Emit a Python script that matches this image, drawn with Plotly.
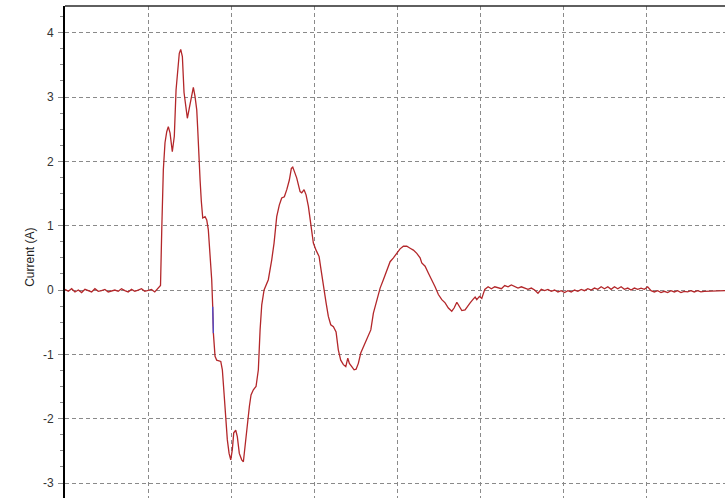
import plotly.graph_objects as go

# Sampled current waveform: time (grid divisions) and current (A)
t_pre = [0.00, 0.04, 0.08, 0.12, 0.16, 0.20, 0.24, 0.28, 0.32, 0.36,
         0.40, 0.44, 0.48, 0.52, 0.56, 0.60, 0.64, 0.68, 0.72, 0.76,
         0.80, 0.84, 0.88, 0.92, 0.96, 1.00, 1.04, 1.08, 1.12]
i_pre = [0.01, -0.02, 0.02, -0.03, 0.00, -0.04, 0.01, -0.01, -0.03, 0.02,
         -0.02, -0.01, 0.01, -0.03, -0.01, 0.00, -0.02, 0.02, -0.01, -0.03,
         0.01, -0.02, 0.00, 0.02, -0.02, -0.01, 0.01, -0.03, 0.02]

t_pulse = [1.149, 1.164, 1.183, 1.203, 1.224, 1.243, 1.264, 1.291, 1.315, 1.336,
           1.356, 1.375, 1.392, 1.412, 1.432, 1.452, 1.472, 1.496, 1.525, 1.544,
           1.564, 1.585, 1.597, 1.609, 1.625, 1.640, 1.657, 1.685, 1.705, 1.724,
           1.745, 1.765, 1.777, 1.785, 1.805, 1.825, 1.874, 1.893, 1.913, 1.937,
           1.953, 1.974, 1.994, 2.013, 2.030, 2.054, 2.073, 2.097, 2.126, 2.146,
           2.166, 2.194, 2.218, 2.238, 2.266, 2.298, 2.326, 2.347, 2.367, 2.395,
           2.446, 2.487, 2.515, 2.547, 2.578, 2.607, 2.639, 2.668, 2.699, 2.723,
           2.740, 2.760, 2.788, 2.828, 2.848, 2.876, 2.900, 2.928, 2.957, 2.988,
           3.020, 3.057, 3.081, 3.108, 3.141, 3.168, 3.197, 3.229, 3.261, 3.288,
           3.317, 3.349, 3.378, 3.402, 3.421, 3.450, 3.478, 3.502, 3.529, 3.558,
           3.590, 3.622, 3.650, 3.679, 3.710, 3.751, 3.791, 3.830, 3.871, 3.911,
           3.951, 3.992, 4.031, 4.071, 4.112, 4.152, 4.191, 4.232, 4.272, 4.292,
           4.332, 4.372, 4.413, 4.452, 4.492, 4.533, 4.573, 4.612, 4.653, 4.681,
           4.714, 4.745, 4.774, 4.813, 4.841, 4.874, 4.906, 4.934, 4.954, 4.986,
           5.014]
i_pulse = [0.07, 0.94, 1.87, 2.29, 2.46, 2.54, 2.44, 2.15, 2.39, 3.11,
           3.42, 3.68, 3.74, 3.63, 3.07, 2.85, 2.67, 2.83, 3.03, 3.15,
           3.01, 2.80, 2.49, 2.08, 1.71, 1.38, 1.12, 1.14, 1.09, 0.94,
           0.55, 0.16, -0.26, -0.67, -1.03, -1.09, -1.11, -1.24, -1.60, -2.02,
           -2.33, -2.54, -2.64, -2.48, -2.22, -2.18, -2.28, -2.54, -2.64, -2.67,
           -2.43, -2.02, -1.81, -1.63, -1.55, -1.50, -1.24, -0.62, -0.23, 0.00,
           0.16, 0.47, 0.73, 1.14, 1.32, 1.43, 1.45, 1.56, 1.71, 1.89,
           1.91, 1.84, 1.74, 1.53, 1.51, 1.56, 1.48, 1.30, 0.99, 0.73,
           0.62, 0.52, 0.31, 0.05, -0.20, -0.41, -0.54, -0.57, -0.65, -0.93,
           -1.09, -1.16, -1.19, -1.06, -1.14, -1.19, -1.24, -1.23, -1.14, -0.98,
           -0.88, -0.80, -0.72, -0.62, -0.36, -0.15, 0.03, 0.16, 0.31, 0.44,
           0.50, 0.57, 0.64, 0.68, 0.68, 0.65, 0.62, 0.57, 0.50, 0.42,
           0.37, 0.26, 0.16, 0.05, -0.07, -0.15, -0.20, -0.28, -0.33, -0.28,
           -0.19, -0.27, -0.32, -0.31, -0.25, -0.20, -0.15, -0.11, -0.15, -0.10,
           -0.13]

t_post = [5.05, 5.09, 5.13, 5.17, 5.21, 5.25, 5.29, 5.33, 5.37, 5.41,
          5.45, 5.49, 5.53, 5.57, 5.61, 5.65, 5.69, 5.73, 5.77, 5.81,
          5.85, 5.89, 5.93, 5.97, 6.01, 6.05, 6.09, 6.13, 6.17, 6.21,
          6.25, 6.29, 6.33, 6.37, 6.41, 6.45, 6.49, 6.53, 6.57, 6.61,
          6.65, 6.69, 6.73, 6.77, 6.81, 6.85, 6.89, 6.93, 6.97, 7.01,
          7.05, 7.09, 7.13, 7.17, 7.21, 7.25, 7.29, 7.33, 7.37, 7.41,
          7.45, 7.49, 7.53, 7.57, 7.61, 7.65, 7.69, 7.73, 7.79, 7.87, 7.94]
i_post = [0.01, 0.05, 0.02, 0.05, 0.03, 0.02, 0.07, 0.05, 0.08, 0.05,
          0.03, 0.05, 0.03, 0.01, 0.03, 0.00, -0.05, 0.01, -0.01, 0.01,
          -0.02, 0.00, -0.03, -0.01, -0.04, -0.01, -0.03, 0.00, -0.02, 0.01,
          -0.01, 0.02, 0.00, 0.03, 0.01, 0.05, 0.02, 0.05, 0.01, 0.05,
          0.02, 0.05, 0.01, 0.03, 0.00, 0.03, 0.01, 0.03, 0.01, 0.05,
          -0.01, -0.03, -0.01, -0.04, -0.02, -0.04, -0.01, -0.03, -0.01, -0.04,
          -0.02, -0.03, -0.01, -0.03, -0.01, -0.03, -0.02, -0.02, -0.01, -0.01, -0.01]

y_ticks = [-3, -2, -1, 0, 1, 2, 3, 4]

t_all = t_pre + t_pulse + t_post
i_all = i_pre + i_pulse + i_post

# short stretch of the falling edge recorded on the second channel colour
blue_idx = [k for k, tv in enumerate(t_all) if 1.776 <= tv <= 1.786]
t_blue = [t_all[k] for k in blue_idx]
i_blue = [i_all[k] for k in blue_idx]

fig = go.Figure()
fig.add_trace(go.Scatter(x=t_all, y=i_all, mode="lines",
                         line=dict(color="#b3272a", width=1.3),
                         hoverinfo="skip", showlegend=False))
fig.add_trace(go.Scatter(x=t_blue, y=i_blue, mode="lines",
                         line=dict(color="#4a4ad0", width=1.3),
                         hoverinfo="skip", showlegend=False))

grid = dict(showgrid=True, gridcolor="#8a8a8a", gridwidth=1, griddash="4px,3px")

fig.update_xaxes(range=[0, 7.94], dtick=1, tick0=0, showticklabels=False,
                 ticks="", zeroline=False, showline=False, **grid)
fig.update_yaxes(range=[-3.233, 4.415], tickvals=y_ticks,
                 ticktext=[str(v) for v in y_ticks],
                 ticks="outside", ticklen=5, tickcolor="#8a8a8a", tickwidth=1,
                 minor=dict(dtick=0.25, tick0=0, ticks="outside", ticklen=3,
                            tickcolor="#8a8a8a", showgrid=False),
                 showline=True, linecolor="#000000", linewidth=2,
                 zeroline=False, ticklabelstandoff=2,
                 tickfont=dict(family="Liberation Sans, Arial", size=12, color="#333333"),
                 **grid)

fig.add_shape(type="line", xref="paper", yref="paper", x0=0, x1=1, y0=1, y1=1,
              line=dict(color="#2a2a2a", width=1.5))

fig.add_annotation(text="Current (A)", xref="paper", yref="y", x=-0.053, y=0.5,
                   textangle=-90, showarrow=False, xanchor="center", yanchor="middle",
                   font=dict(family="Liberation Sans, Arial", size=12, color="#222222"))

fig.update_layout(width=725, height=498, margin=dict(l=65, r=0, t=6, b=0),
                  paper_bgcolor="white", plot_bgcolor="white")

fig.write_html("out.html")
